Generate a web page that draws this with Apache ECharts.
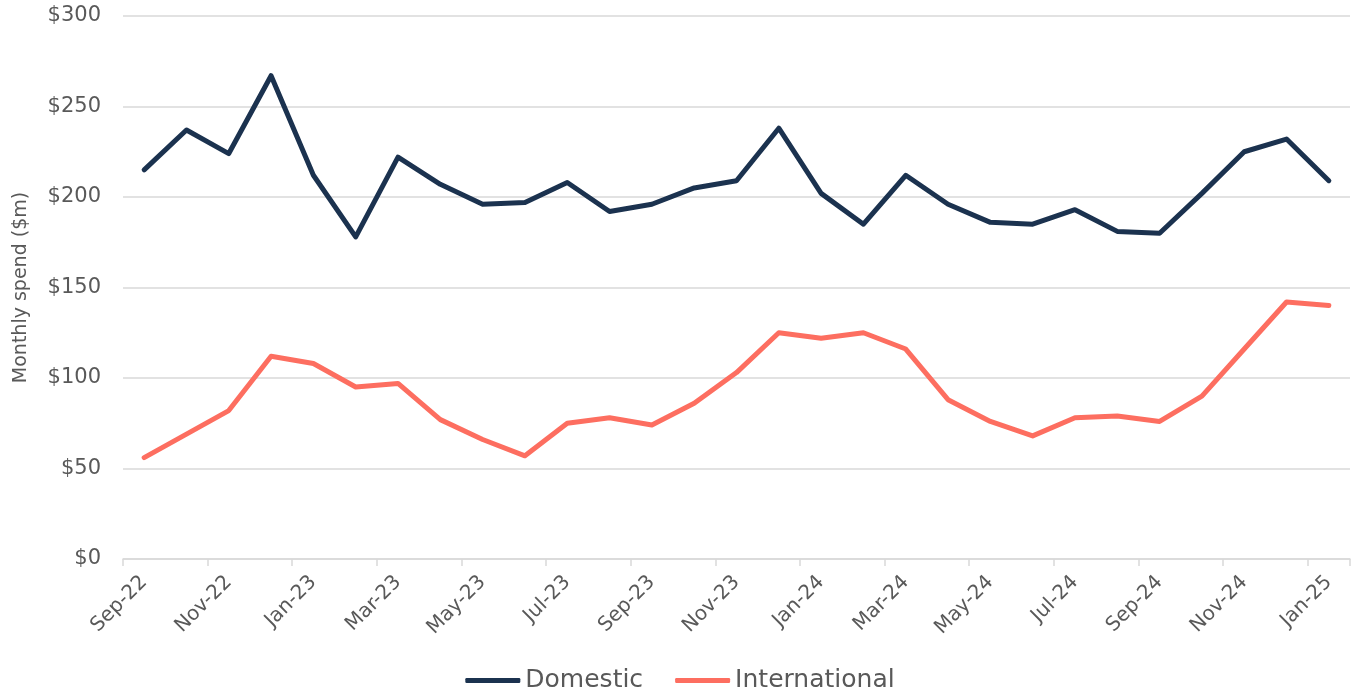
<!DOCTYPE html>
<html>
<head>
<meta charset="utf-8">
<script src="https://cdn.jsdelivr.net/npm/echarts@6/dist/echarts.min.js"></script>
<style>html,body{margin:0;padding:0;background:#fff;}#c{width:1360px;height:699px;}</style>
</head>
<body>
<div id="c"></div>
<script>
const categories = ['Sep-22','Oct-22','Nov-22','Dec-22','Jan-23','Feb-23','Mar-23','Apr-23','May-23','Jun-23','Jul-23','Aug-23','Sep-23','Oct-23','Nov-23','Dec-23','Jan-24','Feb-24','Mar-24','Apr-24','May-24','Jun-24','Jul-24','Aug-24','Sep-24','Oct-24','Nov-24','Dec-24','Jan-25'];
const domestic = [215,237,224,267,212,178,222,207,196,197,208,192,196,205,209,238,202,185,212,196,186,185,193,181,180,202,225,232,209];
const international = [56,69,82,112,108,95,97,77,66,57,75,78,74,86,103,125,122,125,116,88,76,68,78,79,76,90,116,142,140];
const yTicks = [0,50,100,150,200,250,300];

const FONT = '"DejaVu Sans", "Noto Sans", sans-serif';
const DOM_COLOR = '#1b324f';
const INT_COLOR = '#fd6e60';
const chart = echarts.init(document.getElementById('c'));
chart.setOption({
  animation: false,
  textStyle: { fontFamily: FONT },
  grid: { left: 123, right: 10, top: 16, bottom: 140 },
  legend: {
    bottom: 1,
    left: 'center',
    itemWidth: 55,
    itemHeight: 5,
    itemGap: 32,
    textStyle: { fontSize: 25, color: '#595959', fontFamily: FONT },
    data: [
      { name: 'Domestic', icon: 'roundRect', itemStyle: { color: DOM_COLOR } },
      { name: 'International', icon: 'roundRect', itemStyle: { color: INT_COLOR } }
    ]
  },
  xAxis: {
    type: 'category',
    data: categories,
    boundaryGap: true,
    axisLine: { lineStyle: { color: '#d9d9d9', width: 1.5 } },
    axisTick: { show: true, interval: 1, length: 7, lineStyle: { color: '#d9d9d9', width: 1.5 } },
    axisLabel: { interval: 1, rotate: 45, fontSize: 20, color: '#595959', margin: 20, fontFamily: FONT }
  },
  yAxis: {
    type: 'value',
    min: yTicks[0],
    max: yTicks[yTicks.length - 1],
    interval: 50,
    name: 'Monthly spend ($m)',
    nameLocation: 'middle',
    nameGap: 92,
    nameTextStyle: { fontSize: 19, color: '#595959', fontFamily: FONT },
    axisLine: { show: false },
    axisTick: { show: false },
    axisLabel: { fontSize: 21, color: '#595959', margin: 22, formatter: v => '$' + v, fontFamily: FONT },
    splitLine: { lineStyle: { color: '#d9d9d9', width: 1.5 } }
  },
  series: [
    { name: 'Domestic', type: 'line', data: domestic, symbol: 'none', color: DOM_COLOR,
      lineStyle: { width: 5, color: DOM_COLOR, cap: 'round', join: 'round' } },
    { name: 'International', type: 'line', data: international, symbol: 'none', color: INT_COLOR,
      lineStyle: { width: 5, color: INT_COLOR, cap: 'round', join: 'round' } }
  ]
});
</script>
</body>
</html>
